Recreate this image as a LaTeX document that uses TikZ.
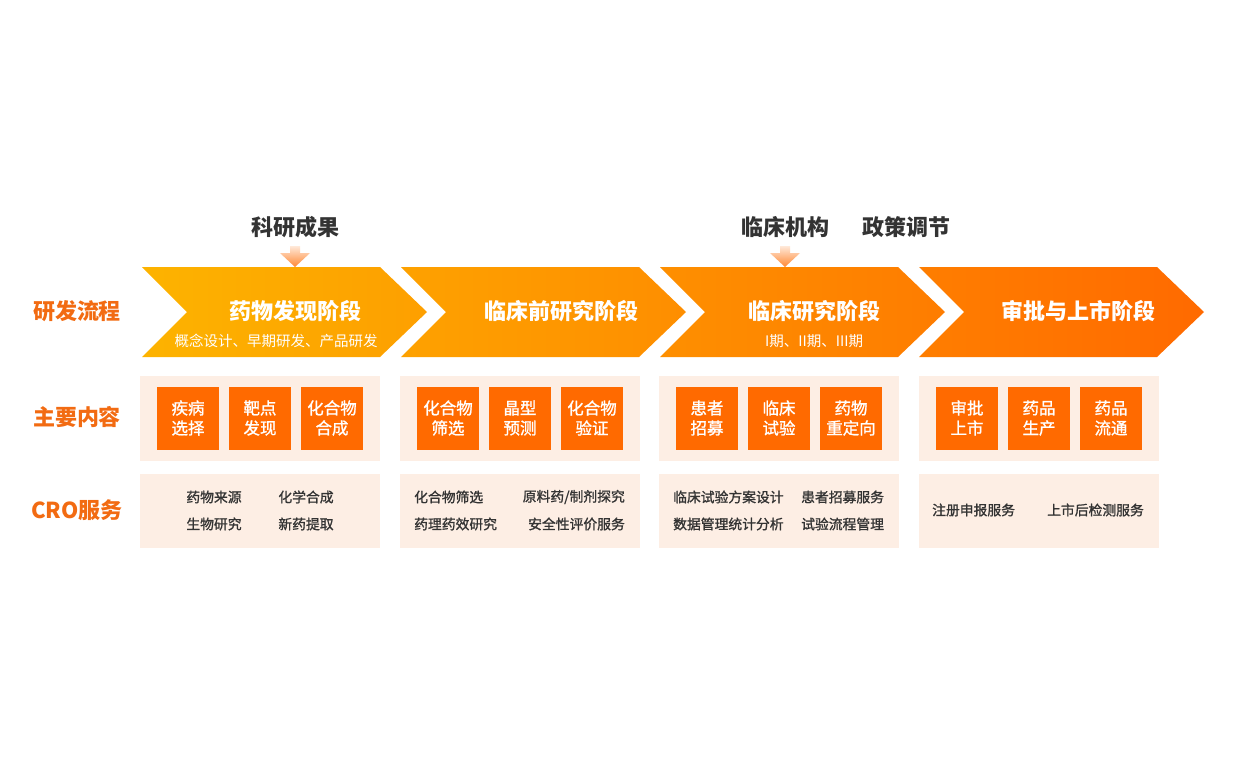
\documentclass[tikz,border=0pt]{standalone}
\usepackage{fontspec}
\setmainfont{Noto Sans CJK SC}
\newfontfamily\medfont{Noto Sans CJK SC}[FakeBold=1.2]
\usetikzlibrary{positioning}

\definecolor{labelorange}{HTML}{F26B12}
\definecolor{boxorange}{HTML}{FF6A00}
\definecolor{panelbg}{HTML}{FDEEE4}
\definecolor{darktext}{HTML}{333333}
\definecolor{grA}{HTML}{FDB300}
\definecolor{grB}{HTML}{FF6A00}

\tikzset{
  rowlabel/.style={text=labelorange, font=\fontsize{22}{26}\selectfont\bfseries, inner sep=0},
  toplabel/.style={text=darktext, font=\fontsize{22}{26}\selectfont\bfseries, inner sep=0},
  stagetitle/.style={text=white, font=\fontsize{22}{26}\selectfont\bfseries, inner sep=0},
  stagesub/.style={text=white, font=\fontsize{14.5}{17}\selectfont, inner sep=0},
  itembox/.style={fill=boxorange, text=white, minimum width=62, minimum height=63,
    inner sep=0, align=center, font=\fontsize{16.5}{20}\selectfont\medfont},
  crotext/.style={text=darktext, font=\fontsize{13.8}{16}\selectfont\medfont, inner sep=0},
  inarrow/.style={top color=boxorange!15!white, bottom color=boxorange!80!white, draw=none}
}

\begin{document}
\begin{tikzpicture}[x=1pt, y=-1pt]
  \useasboundingbox (0,0) rectangle (1235,772);

  % stage chevrons
  \shade[left color=grA, right color=grB!27!grA]
    (142,267) -- (380,267) -- (427,312) -- (380,357) -- (142,357) -- (187,312) -- cycle;
  \shade[left color=grB!24!grA, right color=grB!51!grA]
    (401,267) -- (639,267) -- (686,312) -- (639,357) -- (401,357) -- (446,312) -- cycle;
  \shade[left color=grB!49!grA, right color=grB!75!grA]
    (660,267) -- (898,267) -- (945,312) -- (898,357) -- (660,357) -- (705,312) -- cycle;
  \shade[left color=grB!73!grA, right color=grB]
    (919,267) -- (1157,267) -- (1204,312) -- (1157,357) -- (919,357) -- (964,312) -- cycle;

  \node[stagetitle] (s1) at (295,311) {药物发现阶段};
  \node[stagesub] (s1sub) at (276,341) {概念设计、早期研发、产品研发};
  \node[stagetitle] (s2) at (561,311) {临床前研究阶段};
  \node[stagetitle] (s3) at (814,311) {临床研究阶段};
  \node[stagesub] (s3sub) at (814,341) {I期、II期、III期};
  \node[stagetitle] (s4) at (1078,311) {审批与上市阶段};

  % inputs above the chevrons
  \node[toplabel] (res) at (295,227) {科研成果};
  \node[toplabel] (clin) at (785,227) {临床机构};
  \node[toplabel] (policy) at (906,227) {政策调节};

  \coordinate (resin) at (295,246);
  \coordinate (clinin) at (785,246);
  \foreach \a in {resin, clinin} {
    \shade[inarrow] (\a) ++(-5,0) -- ++(10,0) -- ++(0,7) -- ++(10,0)
      -- ++(-15,14) -- ++(-15,-14) -- ++(10,0) -- cycle;
  }

  % row labels
  \node[rowlabel] (flow) at (77,311) {研发流程};
  \node[rowlabel] (content) at (77,417) {主要内容};
  \node[rowlabel] (cro) at (77,510) {CRO服务};

  % panels
  \foreach \x in {140, 400, 659, 919} {
    \fill[panelbg] (\x,376) rectangle ++(240,85);
    \fill[panelbg] (\x,474) rectangle ++(240,74);
  }

  % main content boxes
  \node[itembox] (b11) at (188,418) {疾病\\选择};
  \node[itembox] (b12) at (260,418) {靶点\\发现};
  \node[itembox] (b13) at (332,418) {化合物\\合成};

  \node[itembox] (b21) at (448,418) {化合物\\筛选};
  \node[itembox] (b22) at (520,418) {晶型\\预测};
  \node[itembox] (b23) at (592,418) {化合物\\验证};

  \node[itembox] (b31) at (707,418) {患者\\招募};
  \node[itembox] (b32) at (779,418) {临床\\试验};
  \node[itembox] (b33) at (851,418) {药物\\重定向};

  \node[itembox] (b41) at (967,418) {审批\\上市};
  \node[itembox] (b42) at (1039,418) {药品\\生产};
  \node[itembox] (b43) at (1111,418) {药品\\流通};

  % CRO services
  \node[crotext] (c11) at (214,497) {药物来源};
  \node[crotext] (c12) at (306,497) {化学合成};
  \node[crotext] (c13) at (214,524) {生物研究};
  \node[crotext] (c14) at (306,524) {新药提取};

  \node[crotext, anchor=west] (c21) at (414,497) {化合物筛选};
  \node[crotext, anchor=east] (c22) at (625,497) {原料药/制剂探究};
  \node[crotext, anchor=west] (c23) at (414,524) {药理药效研究};
  \node[crotext, anchor=east] (c24) at (625,524) {安全性评价服务};

  \node[crotext, anchor=west] (c31) at (673,497) {临床试验方案设计};
  \node[crotext, anchor=west] (c32) at (801,497) {患者招募服务};
  \node[crotext, anchor=west] (c33) at (673,524) {数据管理统计分析};
  \node[crotext, anchor=west] (c34) at (801,524) {试验流程管理};

  \node[crotext, anchor=west] (c41) at (932,510) {注册申报服务};
  \node[crotext, anchor=west] (c42) at (1047,510) {上市后检测服务};
\end{tikzpicture}
\end{document}
